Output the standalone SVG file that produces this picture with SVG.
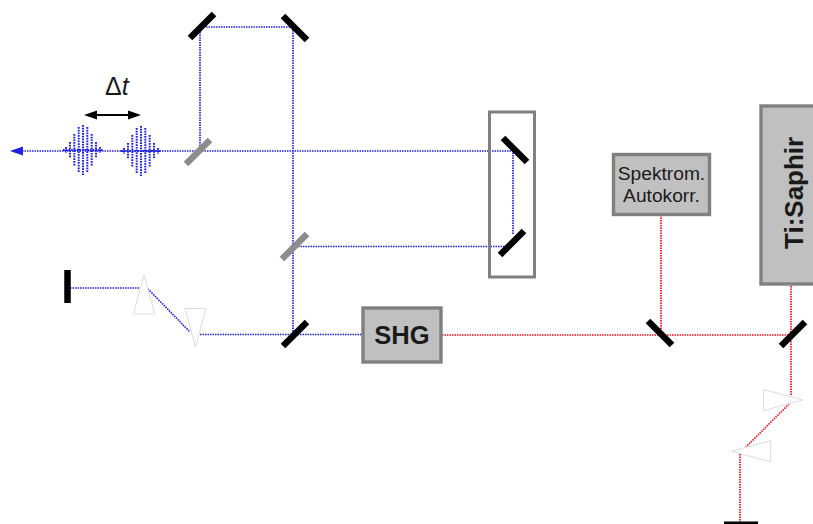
<svg xmlns="http://www.w3.org/2000/svg" xmlns:xlink="http://www.w3.org/1999/xlink" width="813" height="524" viewBox="0 0 813 524">
<style>
text{font-family:"Liberation Sans",Arial,sans-serif;fill:#1a1a1a}
.b{fill:none;stroke:#2020e0;stroke-width:1.700;stroke-dasharray:1.500 1}
.r{fill:none;stroke:#e8101c;stroke-width:1.700;stroke-dasharray:1.500 1}
.m{stroke:#000;stroke-width:6.500;fill:none}
.s{stroke:#8c8c8c;stroke-width:6.500;fill:none}
.p{fill:#fff;stroke:#dcdcdc;stroke-width:1}
.box{fill:#c0c0c0;stroke:#808080;stroke-width:3.400}
.pl{fill:none;stroke:#2020e0;stroke-width:2;stroke-dasharray:1.700 1}
</style>
<defs>
<path id="pulse" class="pl" d="M-20 0H20M0 -25V25M-4.300 -23V23M4.300 -23V23M-8.700 -16V16M8.700 -16V16M-13 -8V8M13 -8V8M-17 -3V3M17 -3V3"/>
<path id="ah" d="M0 0L13 -4.500V4.500z" fill="#000"/>
</defs>
<g id="connectors">
<path class="b" d="M22 151H513V235M200 151V27H293V335M293 246.500H505M70 288H141M148 289L190 332M200 334.500H362"/>
<path class="r" d="M442 335H790M661 215V335M791 281V395M789 404L746 447M740 454V522"/>
<path d="M10 151L23 146.500V155.500z" fill="#2020e0"/>
<use xlink:href="#pulse" href="#pulse" x="83" y="150"/>
<use xlink:href="#pulse" href="#pulse" x="141" y="151"/>
<path d="M90 115H135" stroke="#000" stroke-width="1.800"/>
<use xlink:href="#ah" href="#ah" x="84" y="115"/>
<use xlink:href="#ah" href="#ah" transform="translate(141,115) rotate(180)"/>
</g>
<g id="label-dt"><text x="105" y="95" font-size="25">Δ<tspan font-style="italic">t</tspan></text></g>
<g id="mirror-top-left"><path class="m" d="M190 38L214 14"/></g>
<g id="mirror-top-right"><path class="m" d="M283 16L307 40"/></g>
<g id="splitter-1"><path class="s" d="M186 164L210 140"/></g>
<g id="splitter-2"><path class="s" d="M282 259L307 234"/></g>
<g id="mirror-bottom"><path class="m" d="M283 346L307 322"/></g>
<g id="delay-stage"><rect x="489.500" y="112" width="45" height="165" fill="none" stroke="#808080" stroke-width="3"/>
<path class="m" d="M503 138L527 162M500 255L524 231"/></g>
<g id="end-mirror-left"><path class="m" d="M67.500 270V303"/></g>
<g id="prism-1"><path class="p" d="M144 275L133.500 314H154.700z"/></g>
<g id="prism-2"><path class="p" d="M185 308.500H206L195.500 347z"/></g>
<g id="shg"><rect class="box" x="363" y="308" width="78" height="54"/><text x="402" y="344" font-size="25.500" font-weight="bold" text-anchor="middle">SHG</text></g>
<g id="spektrom"><rect class="box" x="613.500" y="154.500" width="96" height="60"/><text x="661.500" y="180" font-size="19.200" text-anchor="middle">Spektrom.</text><text x="661.500" y="202" font-size="19.200" text-anchor="middle">Autokorr.</text></g>
<g id="mirror-red-1"><path class="m" d="M648 321L672 345"/></g>
<g id="mirror-red-2"><path class="m" d="M781 346L805 322"/></g>
<g id="tisaphir"><rect class="box" x="761" y="106" width="60" height="178"/><text transform="translate(803,249) rotate(-90)" font-size="26" font-weight="bold">Ti:Saphir</text></g>
<g id="prism-3"><path class="p" d="M763.500 389.500L802.700 400L763.500 410.700z"/></g>
<g id="prism-4"><path class="p" d="M770.700 440.700L731.300 451.300L770.700 462z"/></g>
<g id="end-mirror-bottom"><path d="M724 523H758" stroke="#000" stroke-width="3" fill="none"/></g>
</svg>
